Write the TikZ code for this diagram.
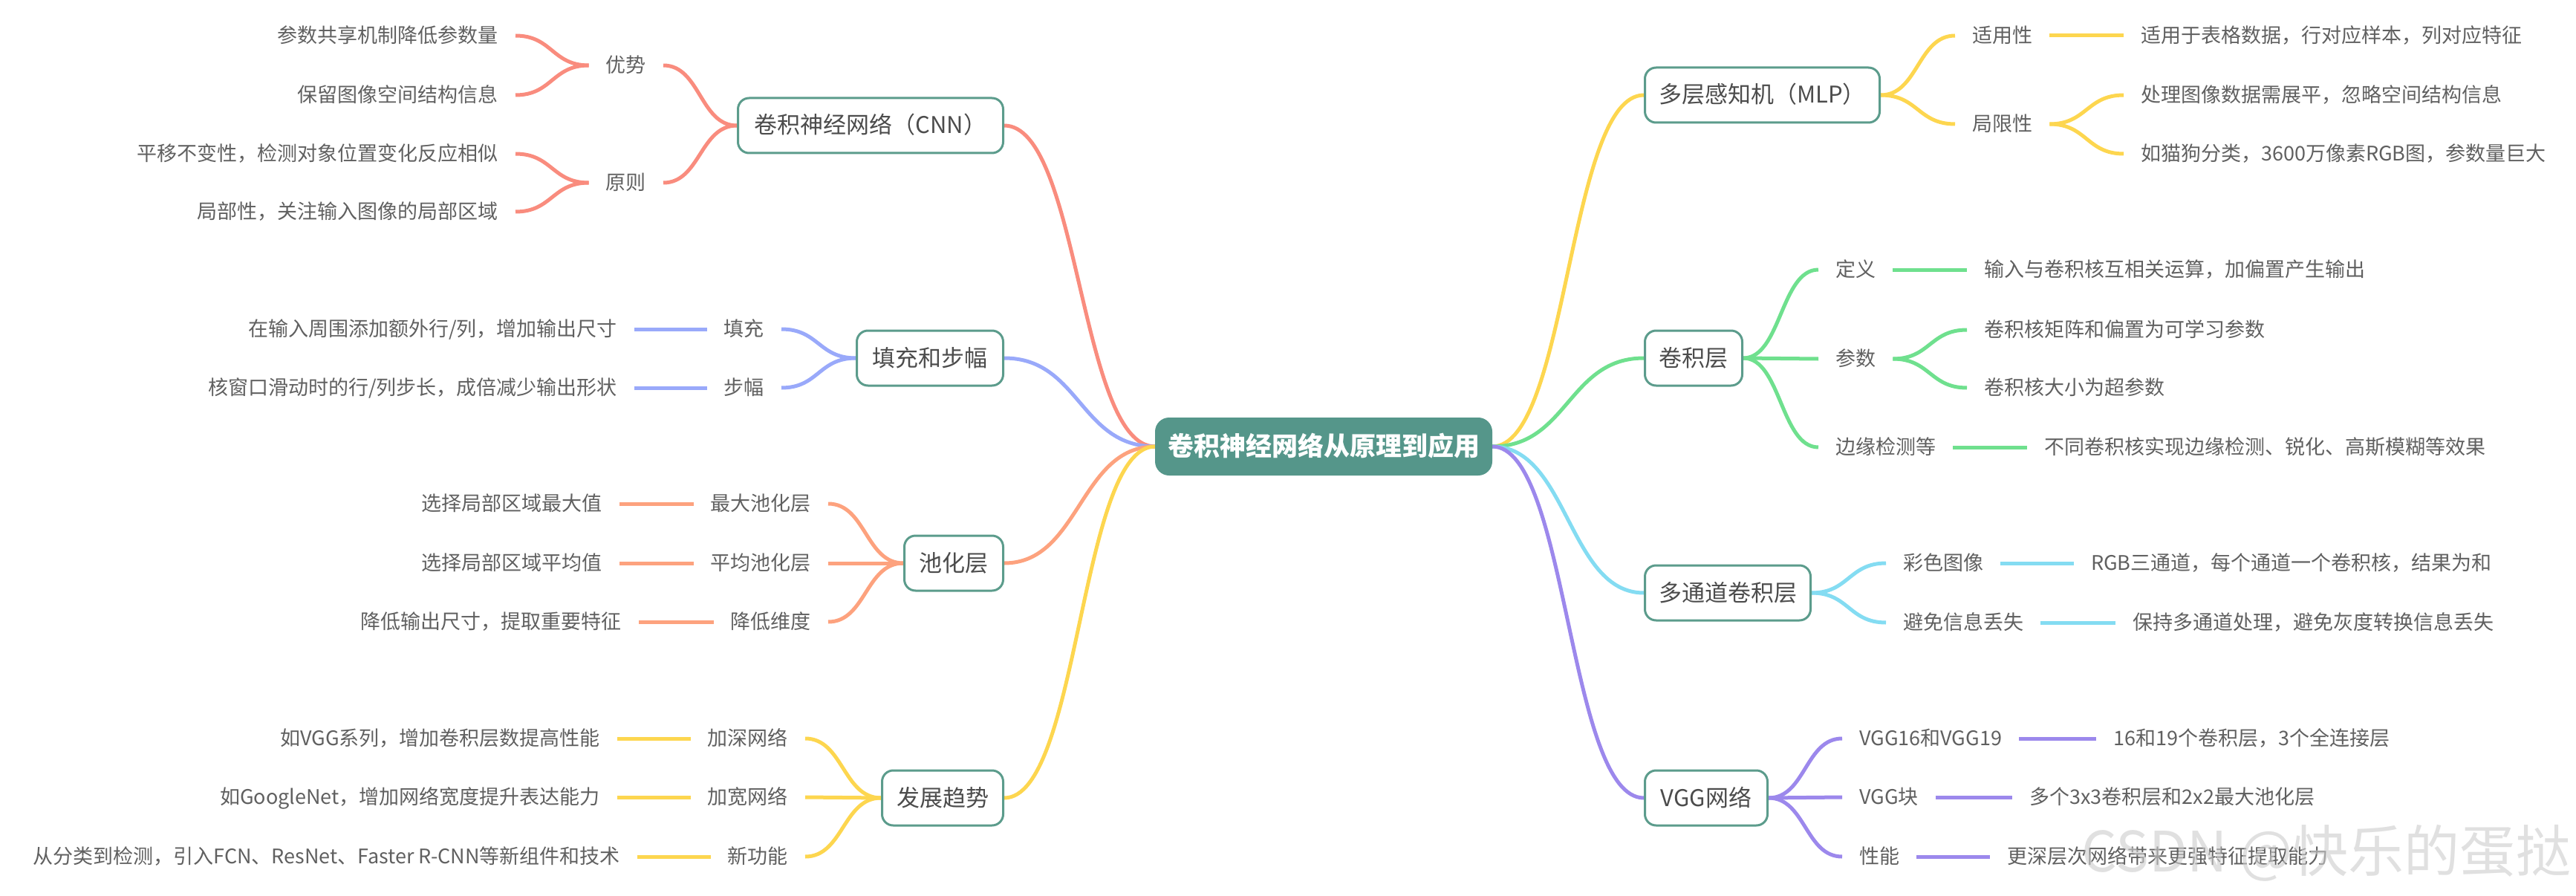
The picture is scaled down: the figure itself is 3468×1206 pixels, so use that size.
\documentclass[tikz,border=0pt]{standalone}
\usepackage{fontspec}
\setmainfont{Noto Sans CJK SC}
\usetikzlibrary{calc,backgrounds}
\definecolor{cred}{HTML}{F98C7E}
\definecolor{cblue}{HTML}{99A9FA}
\definecolor{corange}{HTML}{FDA27E}
\definecolor{cyellow}{HTML}{FDD64F}
\definecolor{cgreen}{HTML}{6FE08E}
\definecolor{ccyan}{HTML}{84DCF2}
\definecolor{cpurple}{HTML}{9C88EC}
\definecolor{boxc}{HTML}{5C9C8C}
\definecolor{rootc}{HTML}{55968A}
\definecolor{textgray}{HTML}{606060}
\definecolor{boxtext}{HTML}{4C4C4C}
\tikzset{
  hc/.style={to path={let \p1=(\tikztostart), \p2=(\tikztotarget) in
     .. controls ({0.5*\x1+0.5*\x2},\y1) and ({0.5*\x1+0.5*\x2},\y2) .. (\tikztotarget)}},
  txt/.style={inner xsep=23pt, inner ysep=0pt, text height=23pt, text depth=4pt,
     font=\fontsize{27}{30}\selectfont, text=textgray},
  Lt/.style={txt, anchor=east},
  Rt/.style={txt, anchor=west},
  mapbox/.style={draw=boxc, line width=3pt, rounded corners=15pt, fill=white,
     minimum height=74pt, inner xsep=0pt, inner ysep=0pt, text height=27pt, text depth=5pt,
     font=\fontsize{31}{36}\selectfont, text=boxtext},
  conn/.style={line width=5pt, hc},
}
\begin{document}
\begin{tikzpicture}[x=1pt,y=-1pt]
\useasboundingbox (0,0) rectangle (3468,1206);

% root
\node[draw=rootc, fill=rootc, line width=2pt, rounded corners=18pt, minimum width=452pt,
  minimum height=76pt, inner sep=0pt, text=white, text height=30pt, text depth=5pt,
  font=\fontsize{35}{40}\selectfont\bfseries] (root) at (1782,601) {卷积神经网络从原理到应用};

% main boxes
\node[mapbox, anchor=east, minimum width=357pt] (cnn) at (1352,169) {卷积神经网络（CNN）};
\node[mapbox, anchor=east, minimum width=197pt] (pad) at (1352,482) {填充和步幅};
\node[mapbox, anchor=east, minimum width=133pt] (pool) at (1352,758) {池化层};
\node[mapbox, anchor=east, minimum width=163pt] (trend) at (1352,1074) {发展趋势};
\node[mapbox, anchor=west, minimum width=316pt] (mlp) at (2213,128) {多层感知机（MLP）};
\node[mapbox, anchor=west, minimum width=131pt] (conv) at (2213,482) {卷积层};
\node[mapbox, anchor=west, minimum width=223pt] (multi) at (2213,798) {多通道卷积层};
\node[mapbox, anchor=west, minimum width=165pt] (vgg) at (2213,1074) {VGG网络};

% CNN
\node[Lt] (cnnA) at (893,88) {优势};
\node[Lt] (cnnB) at (893,246) {原则};
\node[Lt] (cnnA1) at (694,48) {参数共享机制降低参数量};
\node[Lt] (cnnA2) at (694,128) {保留图像空间结构信息};
\node[Lt] (cnnB1) at (694,207) {平移不变性，检测对象位置变化反应相似};
\node[Lt] (cnnB2) at (694,285) {局部性，关注输入图像的局部区域};
% padding
\node[Lt] (padA) at (1052,443) {填充};
\node[Lt] (padB) at (1052,522) {步幅};
\node[Lt] (padA1) at (854,443) {在输入周围添加额外行/列，增加输出尺寸};
\node[Lt] (padB1) at (854,522) {核窗口滑动时的行/列步长，成倍减少输出形状};
% pooling
\node[Lt] (poolA) at (1115,678) {最大池化层};
\node[Lt] (poolB) at (1115,758) {平均池化层};
\node[Lt] (poolC) at (1115,837) {降低维度};
\node[Lt] (poolA1) at (834,678) {选择局部区域最大值};
\node[Lt] (poolB1) at (834,758) {选择局部区域平均值};
\node[Lt] (poolC1) at (860,837) {降低输出尺寸，提取重要特征};
% trends
\node[Lt] (trA) at (1084,994) {加深网络};
\node[Lt] (trB) at (1084,1073) {加宽网络};
\node[Lt] (trC) at (1084,1153) {新功能};
\node[Lt] (trA1) at (831,994) {如VGG系列，增加卷积层数提高性能};
\node[Lt] (trB1) at (831,1073) {如GoogleNet，增加网络宽度提升表达能力};
\node[Lt] (trC1) at (858,1153) {从分类到检测，引入FCN、ResNet、Faster R-CNN等新组件和技术};
% MLP
\node[Rt] (mlpA) at (2632,48) {适用性};
\node[Rt] (mlpB) at (2632,167) {局限性};
\node[Rt] (mlpA1) at (2859,48) {适用于表格数据，行对应样本，列对应特征};
\node[Rt] (mlpB1) at (2859,128) {处理图像数据需展平，忽略空间结构信息};
\node[Rt] (mlpB2) at (2859,207) {如猫狗分类，3600万像素RGB图，参数量巨大};
% conv
\node[Rt] (convA) at (2448,363) {定义};
\node[Rt] (convB) at (2448,483) {参数};
\node[Rt] (convC) at (2448,602) {边缘检测等};
\node[Rt] (convA1) at (2648,363) {输入与卷积核互相关运算，加偏置产生输出};
\node[Rt] (convB1) at (2648,444) {卷积核矩阵和偏置为可学习参数};
\node[Rt] (convB2) at (2648,522) {卷积核大小为超参数};
\node[Rt] (convC1) at (2729,602) {不同卷积核实现边缘检测、锐化、高斯模糊等效果};
% multi
\node[Rt] (mulA) at (2539,758) {彩色图像};
\node[Rt] (mulB) at (2539,838) {避免信息丢失};
\node[Rt] (mulA1) at (2792,758) {RGB三通道，每个通道一个卷积核，结果为和};
\node[Rt] (mulB1) at (2848,838) {保持多通道处理，避免灰度转换信息丢失};
% vgg
\node[Rt] (vggA) at (2480,994) {VGG16和VGG19};
\node[Rt] (vggB) at (2480,1073) {VGG块};
\node[Rt] (vggC) at (2480,1153) {性能};
\node[Rt] (vggA1) at (2822,994) {16和19个卷积层，3个全连接层};
\node[Rt] (vggB1) at (2709,1073) {多个3x3卷积层和2x2最大池化层};
\node[Rt] (vggC1) at (2679,1153) {更深层次网络带来更强特征提取能力};

\begin{scope}[on background layer]
\draw[conn, cred] (root.west) to (cnn.east);
\draw[conn, cblue] (root.west) to (pad.east);
\draw[conn, corange] (root.west) to (pool.east);
\draw[conn, cyellow] (root.west) to (trend.east);
\draw[conn, cyellow] (root.east) to (mlp.west);
\draw[conn, cgreen] (root.east) to (conv.west);
\draw[conn, ccyan] (root.east) to (multi.west);
\draw[conn, cpurple] (root.east) to (vgg.west);

\draw[conn, cred] (cnn.west) to (cnnA.east);
\draw[conn, cred] (cnn.west) to (cnnB.east);
\draw[conn, cred] (cnnA.west) to (cnnA1.east);
\draw[conn, cred] (cnnA.west) to (cnnA2.east);
\draw[conn, cred] (cnnB.west) to (cnnB1.east);
\draw[conn, cred] (cnnB.west) to (cnnB2.east);

\draw[conn, cblue] (pad.west) to (padA.east);
\draw[conn, cblue] (pad.west) to (padB.east);
\draw[conn, cblue] (padA.west) to (padA1.east);
\draw[conn, cblue] (padB.west) to (padB1.east);

\draw[conn, corange] (pool.west) to (poolA.east);
\draw[conn, corange] (pool.west) to (poolB.east);
\draw[conn, corange] (pool.west) to (poolC.east);
\draw[conn, corange] (poolA.west) to (poolA1.east);
\draw[conn, corange] (poolB.west) to (poolB1.east);
\draw[conn, corange] (poolC.west) to (poolC1.east);

\draw[conn, cyellow] (trend.west) to (trA.east);
\draw[conn, cyellow] (trend.west) to (trB.east);
\draw[conn, cyellow] (trend.west) to (trC.east);
\draw[conn, cyellow] (trA.west) to (trA1.east);
\draw[conn, cyellow] (trB.west) to (trB1.east);
\draw[conn, cyellow] (trC.west) to (trC1.east);

\draw[conn, cyellow] (mlp.east) to (mlpA.west);
\draw[conn, cyellow] (mlp.east) to (mlpB.west);
\draw[conn, cyellow] (mlpA.east) to (mlpA1.west);
\draw[conn, cyellow] (mlpB.east) to (mlpB1.west);
\draw[conn, cyellow] (mlpB.east) to (mlpB2.west);

\draw[conn, cgreen] (conv.east) to (convA.west);
\draw[conn, cgreen] (conv.east) to (convB.west);
\draw[conn, cgreen] (conv.east) to (convC.west);
\draw[conn, cgreen] (convA.east) to (convA1.west);
\draw[conn, cgreen] (convB.east) to (convB1.west);
\draw[conn, cgreen] (convB.east) to (convB2.west);
\draw[conn, cgreen] (convC.east) to (convC1.west);

\draw[conn, ccyan] (multi.east) to (mulA.west);
\draw[conn, ccyan] (multi.east) to (mulB.west);
\draw[conn, ccyan] (mulA.east) to (mulA1.west);
\draw[conn, ccyan] (mulB.east) to (mulB1.west);

\draw[conn, cpurple] (vgg.east) to (vggA.west);
\draw[conn, cpurple] (vgg.east) to (vggB.west);
\draw[conn, cpurple] (vgg.east) to (vggC.west);
\draw[conn, cpurple] (vggA.east) to (vggA1.west);
\draw[conn, cpurple] (vggB.east) to (vggB1.west);
\draw[conn, cpurple] (vggC.east) to (vggC1.west);
\end{scope}

% watermark
\node[anchor=east, inner sep=0pt, text=gray!40, opacity=0.6,
  font=\fontsize{75}{80}\selectfont] (wm) at (3462,1148) {CSDN @快乐的蛋挞};
\end{tikzpicture}
\end{document}
